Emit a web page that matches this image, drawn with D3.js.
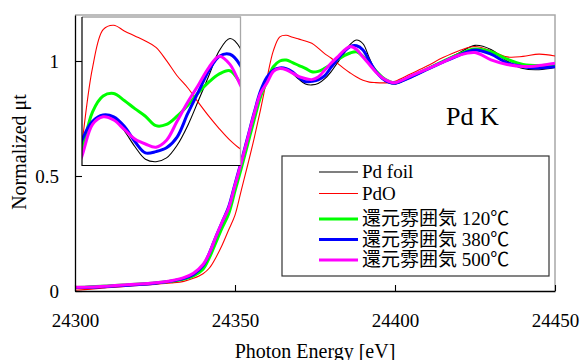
<!DOCTYPE html>
<html>
<head>
<meta charset="utf-8">
<script src="https://cdn.jsdelivr.net/npm/d3@7/dist/d3.min.js"></script>
<style>
  html, body { margin: 0; padding: 0; background: #fff; }
  svg text { font-family: "Liberation Serif", "Noto Sans CJK JP", serif; fill: #000; }
</style>
</head>
<body>
<svg id="chart" width="582" height="360" font-family="'Liberation Serif', 'Noto Sans CJK JP', serif"></svg>
<script>
// Photon energy grid (eV)
const energy = [24300, 24305, 24310, 24315, 24320, 24325, 24330, 24334, 24337, 24340,
  24342, 24344, 24346, 24348, 24350, 24352, 24354, 24356, 24358, 24360,
  24362, 24364, 24366, 24368, 24370, 24372, 24374, 24376, 24378, 24380,
  24382, 24384, 24386, 24388, 24390, 24392, 24394, 24396, 24398, 24400,
  24405, 24410, 24415, 24420, 24425, 24430, 24435, 24440, 24445, 24450];

// Normalized absorption for each sample
const pdFoil = [0.012, 0.015, 0.018, 0.022, 0.027, 0.032, 0.040, 0.050, 0.065, 0.100,
  0.150, 0.215, 0.285, 0.350, 0.445, 0.550, 0.655, 0.760, 0.855, 0.922,
  0.958, 0.970, 0.965, 0.945, 0.920, 0.900, 0.896, 0.902, 0.922, 0.953,
  0.992, 1.032, 1.072, 1.091, 1.075, 1.012, 0.955, 0.923, 0.905, 0.900,
  0.932, 0.968, 1.000, 1.035, 1.068, 1.050, 1.000, 0.967, 0.962, 0.972];

const pdO = [0.003, 0.008, 0.014, 0.019, 0.024, 0.029, 0.035, 0.042, 0.055, 0.075,
  0.100, 0.145, 0.200, 0.265, 0.330, 0.440, 0.550, 0.665, 0.790, 0.925,
  1.045, 1.105, 1.112, 1.103, 1.095, 1.087, 1.077, 1.056, 1.032, 1.013,
  0.990, 0.968, 0.948, 0.930, 0.916, 0.908, 0.906, 0.905, 0.906, 0.912,
  0.945, 0.978, 1.015, 1.045, 1.063, 1.045, 1.018, 1.020, 1.030, 1.022];

const reduced120 = [0.015, 0.018, 0.022, 0.026, 0.030, 0.035, 0.042, 0.052, 0.066, 0.095,
  0.145, 0.210, 0.275, 0.335, 0.435, 0.535, 0.640, 0.745, 0.845, 0.912,
  0.975, 1.000, 1.004, 0.993, 0.980, 0.968, 0.953, 0.955, 0.968, 0.985,
  1.005, 1.022, 1.035, 1.040, 1.020, 0.990, 0.958, 0.930, 0.912, 0.905,
  0.932, 0.965, 0.998, 1.030, 1.052, 1.040, 1.008, 0.985, 0.980, 0.985];

const reduced380 = [0.015, 0.016, 0.020, 0.024, 0.028, 0.034, 0.043, 0.055, 0.072, 0.110,
  0.165, 0.235, 0.300, 0.365, 0.465, 0.565, 0.670, 0.775, 0.870, 0.930,
  0.960, 0.970, 0.967, 0.952, 0.928, 0.910, 0.912, 0.918, 0.935, 0.972,
  1.006, 1.040, 1.063, 1.066, 1.048, 1.000, 0.955, 0.925, 0.908, 0.903,
  0.930, 0.963, 0.995, 1.025, 1.048, 1.030, 0.992, 0.975, 0.970, 0.975];

const reduced500 = [0.016, 0.017, 0.021, 0.026, 0.030, 0.036, 0.045, 0.058, 0.077, 0.115,
  0.165, 0.235, 0.300, 0.360, 0.460, 0.560, 0.665, 0.770, 0.860, 0.905,
  0.955, 0.967, 0.962, 0.947, 0.932, 0.924, 0.919, 0.930, 0.960, 0.990,
  1.017, 1.045, 1.063, 1.050, 1.017, 0.985, 0.952, 0.927, 0.912, 0.906,
  0.935, 0.965, 0.995, 1.025, 1.037, 1.005, 0.985, 0.976, 0.980, 0.990];

const seriesNames = ["Pd foil", "PdO", "還元雰囲気 120℃", "還元雰囲気 380℃", "還元雰囲気 500℃"];
const seriesValues = [pdFoil, pdO, reduced120, reduced380, reduced500];
const seriesColors = ["#000000", "#ff0000", "#00ff00", "#0000ff", "#ff00ff"];
const seriesWidths = [1.1, 1.1, 3, 3, 3];

const xTicks = [24300, 24350, 24400, 24450];
const yTicks = [0, 0.5, 1];
const xTitle = "Photon Energy [eV]";
const yTitle = "Normalized μt";
const edgeLabel = "Pd K";

const serifStack = "'Liberation Serif', 'Noto Sans CJK JP', serif";

const series = seriesNames.map((name, i) => ({
  name,
  color: seriesColors[i],
  width: seriesWidths[i],
  points: energy.map((e, j) => ({ e, v: seriesValues[i][j] }))
}));

const svg = d3.select("#chart");

// Main plot
const plot = { left: 75, right: 555, top: 15, bottom: 291 };
const x = d3.scaleLinear().domain([24300, 24450]).range([plot.left, plot.right]);
const y = d3.scaleLinear().domain([0, 1.2]).range([plot.bottom, plot.top]);

svg.append("defs").append("clipPath").attr("id", "clip-main")
  .append("rect")
  .attr("x", plot.left).attr("y", plot.top)
  .attr("width", plot.right - plot.left).attr("height", plot.bottom - plot.top);

// Top and right frame edges
svg.append("path")
  .attr("d", `M${plot.left},${plot.top}H${plot.right}V${plot.bottom}`)
  .attr("fill", "none").attr("stroke", "#a8a8a8").attr("stroke-width", 1.5);

const lineMain = d3.line()
  .x(d => x(d.e)).y(d => y(d.v))
  .curve(d3.curveCatmullRom.alpha(0.5));

const gMain = svg.append("g").attr("clip-path", "url(#clip-main)");
gMain.selectAll("path.series")
  .data(series)
  .join("path")
  .attr("class", "series")
  .attr("d", d => lineMain(d.points))
  .attr("fill", "none")
  .attr("stroke", d => d.color)
  .attr("stroke-width", d => d.width)
  .attr("stroke-linejoin", "round");

// Axes with inward ticks
const xAxis = d3.axisBottom(x).tickValues(xTicks).tickFormat(d3.format("d"))
  .tickSizeInner(-6).tickSizeOuter(0).tickPadding(23);
const yAxis = d3.axisLeft(y).tickValues(yTicks).tickFormat(d => String(d))
  .tickSizeInner(-7).tickSizeOuter(0).tickPadding(16);

const gx = svg.append("g").attr("transform", `translate(0,${plot.bottom})`).call(xAxis);
const gy = svg.append("g").attr("transform", `translate(${plot.left},0)`).call(yAxis);
[gx, gy].forEach(g => {
  g.attr("font-family", serifStack).attr("font-size", 19);
  g.select(".domain").attr("stroke", "#000").attr("stroke-width", 1.3);
  g.selectAll(".tick line").attr("stroke", "#000").attr("stroke-width", 1.1);
  g.selectAll(".tick text").attr("font-size", 19).attr("fill", "#000")
    .style("font-family", serifStack);
});

// Axis titles
svg.append("text")
  .attr("x", (plot.left + plot.right) / 2).attr("y", 357.5)
  .attr("text-anchor", "middle").attr("font-size", 20)
  .text(xTitle);
svg.append("text")
  .attr("transform", `translate(26,152) rotate(-90)`)
  .attr("text-anchor", "middle").attr("font-size", 20)
  .text(yTitle);

// Absorption edge label
svg.append("text")
  .attr("x", 446).attr("y", 125)
  .attr("font-size", 26)
  .text(edgeLabel);

// Legend
const legend = { left: 282, top: 156, right: 549, bottom: 276 };
svg.append("rect")
  .attr("x", legend.left).attr("y", legend.top)
  .attr("width", legend.right - legend.left).attr("height", legend.bottom - legend.top)
  .attr("fill", "#fff").attr("stroke", "#333").attr("stroke-width", 1.2);
const rowY = [172, 193.5, 219, 239.5, 260];
const gLegend = svg.append("g");
series.forEach((s, i) => {
  gLegend.append("line")
    .attr("x1", 319).attr("x2", 358)
    .attr("y1", rowY[i]).attr("y2", rowY[i])
    .attr("stroke", s.color).attr("stroke-width", s.width);
  gLegend.append("text")
    .attr("x", 362).attr("y", rowY[i])
    .attr("dy", "0.33em")
    .attr("font-size", 19)
    .text(s.name);
});

// Inset: enlarged view of the white-line region
const inset = { left: 82, right: 240.5, top: 17, bottom: 165.5 };
const xi = d3.scaleLinear().domain([24360, 24390]).range([inset.left, inset.right]);
const yi = d3.scaleLinear().domain([0.89, 1.125]).range([inset.bottom, inset.top]);

svg.select("defs").append("clipPath").attr("id", "clip-inset")
  .append("rect")
  .attr("x", inset.left).attr("y", inset.top)
  .attr("width", inset.right - inset.left).attr("height", inset.bottom - inset.top);

svg.append("rect")
  .attr("x", inset.left).attr("y", inset.top)
  .attr("width", inset.right - inset.left).attr("height", inset.bottom - inset.top)
  .attr("fill", "#fff");

const lineInset = d3.line()
  .x(d => xi(d.e)).y(d => yi(d.v))
  .curve(d3.curveCatmullRom.alpha(0.5));

const gInset = svg.append("g").attr("clip-path", "url(#clip-inset)");
gInset.selectAll("path.series")
  .data(series)
  .join("path")
  .attr("class", "series")
  .attr("d", d => lineInset(d.points))
  .attr("fill", "none")
  .attr("stroke", d => d.color)
  .attr("stroke-width", d => d.width)
  .attr("stroke-linejoin", "round");

svg.append("path")
  .attr("d", `M${inset.left},${inset.top}H${inset.right}V${inset.bottom}`)
  .attr("fill", "none").attr("stroke", "#a8a8a8").attr("stroke-width", 1.3);
svg.append("path")
  .attr("d", `M${inset.left},${inset.top}V${inset.bottom}H${inset.right}`)
  .attr("fill", "none").attr("stroke", "#000").attr("stroke-width", 1.2);
</script>
</body>
</html>
